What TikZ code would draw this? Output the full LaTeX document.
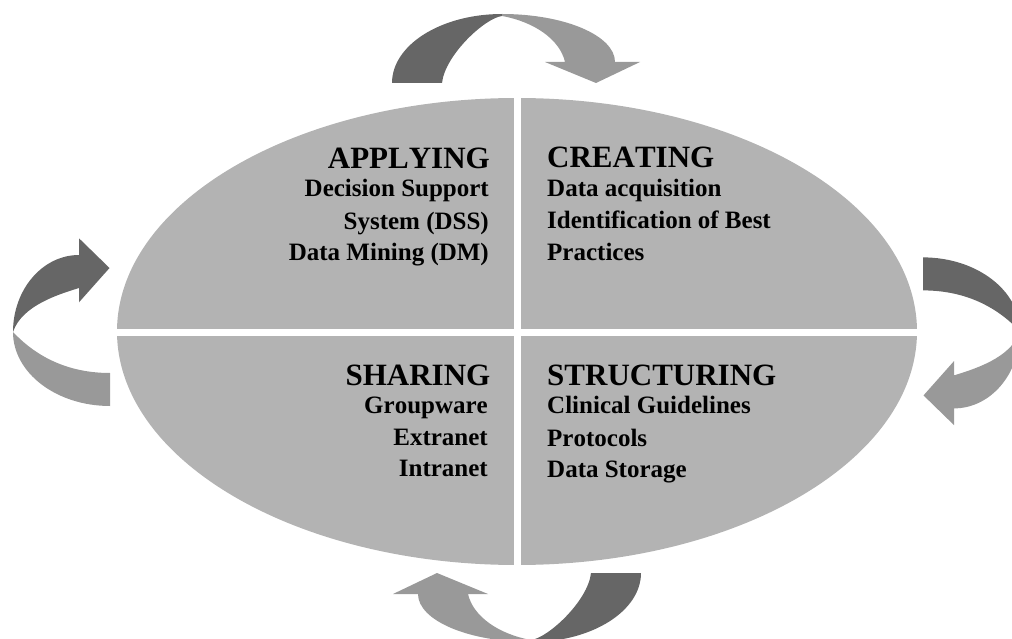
\documentclass[tikz,border=0pt]{standalone}
\usepackage{fontspec}
\setmainfont[Kerning=Off]{Liberation Serif}
\usetikzlibrary{shapes.geometric}
\definecolor{ellgray}{HTML}{B3B3B3}
\definecolor{darkarrow}{HTML}{666666}
\definecolor{lightarrow}{HTML}{999999}
\tikzset{
  titletext/.style={font=\bfseries\fontsize{31}{31}\selectfont, inner sep=0pt, text=black},
  itemtext/.style={font=\bfseries\fontsize{25}{25}\selectfont, inner sep=0pt, text=black},
  leftcol/.style={anchor=base east},
  rightcol/.style={anchor=base west},
}
% curved arrow running over the top: #1 tail colour, #2 head colour
\newcommand{\archarrow}[2]{%
  \fill[#1] (392,83) .. controls (392,44.9) and (441.2,14) .. (502,14) -- (502,16)
     .. controls (485,18) and (445,55) .. (442,83) -- cycle;
  \fill[#2] (502,14) .. controls (564.4,14) and (615,35.5) .. (615,62) -- (640,62)
     -- (596,83) -- (545,62) -- (565,62) .. controls (560,40) and (535,22) .. (502,16) -- cycle;
}
% curved arrow running round the left side: #1 tail colour, #2 head colour
\newcommand{\sidecurve}[2]{%
  \fill[#1] (110,406) .. controls (56.4,406) and (13,372.9) .. (13,332)
     .. controls (30,350) and (60,373) .. (110,373) -- cycle;
  \fill[#2] (13,332) .. controls (13,289.5) and (42.5,255) .. (79,255) -- (79,238.3)
     -- (109.5,268) -- (79,302.3) -- (79,288) .. controls (60,294) and (22,305) .. (13,332) -- cycle;
}
\begin{document}
\begin{tikzpicture}[x=1pt,y=-1pt]
\useasboundingbox (0,0) rectangle (1012,639);
\clip (0,0) rectangle (1012,639);

% the oval and its white cross
\node[ellipse, fill=ellgray, minimum width=800pt, minimum height=467pt, inner sep=0pt] (oval) at (517,331.5) {};
\fill[white] (513.5,90) rectangle (520.5,575);
\fill[white] (110,328.5) rectangle (925,335.5);

% curved arrows
\archarrow{darkarrow}{lightarrow}
\begin{scope}[rotate around={180:(516.5,328)}]
  \archarrow{darkarrow}{lightarrow}
\end{scope}
\sidecurve{lightarrow}{darkarrow}
\begin{scope}[rotate around={180:(516.5,331.7)}]
  \sidecurve{darkarrow}{lightarrow}
\end{scope}

% APPLYING
\node[titletext, leftcol] (applying) at (490,168.3) {APPLYING};
\node[itemtext, leftcol] (dss1) at (489,197) {Decision Support};
\node[itemtext, leftcol] (dss2) at (489,229.3) {System (DSS)};
\node[itemtext, leftcol] (dm) at (489,260.5) {Data Mining (DM)};
% CREATING
\node[titletext, rightcol] (creating) at (547,168) {CREATING};
\node[itemtext, rightcol] (acq) at (547,197) {Data acquisition};
\node[itemtext, rightcol] (best1) at (547,229) {Identification of Best};
\node[itemtext, rightcol] (best2) at (547,261) {Practices};
% SHARING
\node[titletext, leftcol] (sharing) at (490.5,385) {SHARING};
\node[itemtext, leftcol] (group) at (488,413) {Groupware};
\node[itemtext, leftcol] (extra) at (488,445.7) {Extranet};
\node[itemtext, leftcol] (intra) at (488,476.7) {Intranet};
% STRUCTURING
\node[titletext, rightcol] (structuring) at (547,385) {STRUCTURING};
\node[itemtext, rightcol] (clin) at (547,413) {Clinical Guidelines};
\node[itemtext, rightcol] (proto) at (547,446) {Protocols};
\node[itemtext, rightcol] (store) at (547,477) {Data Storage};
\end{tikzpicture}
\end{document}
